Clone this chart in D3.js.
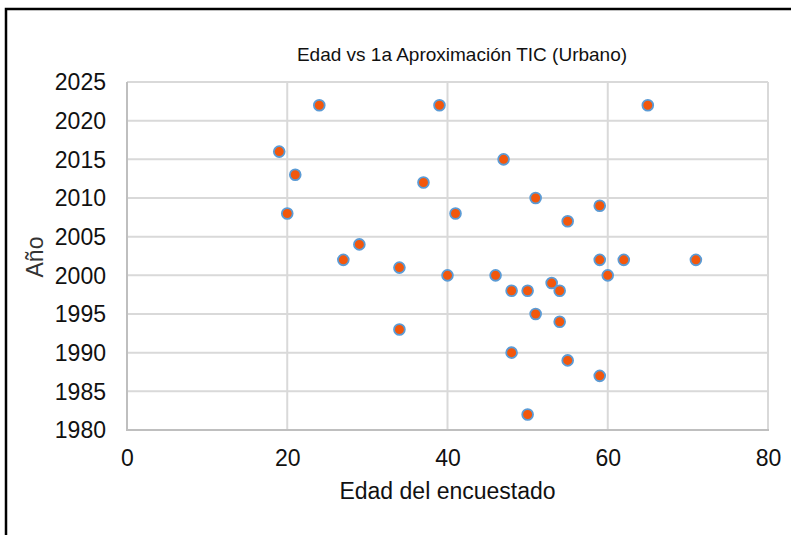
<!DOCTYPE html>
<html>
<head>
<meta charset="utf-8">
<script src="https://cdn.jsdelivr.net/npm/d3@7"></script>
<style>
  html, body { margin: 0; padding: 0; background: #fff; }
  svg { display: block; font-family: "Liberation Sans", Arial, sans-serif; }
</style>
</head>
<body>
<svg id="chart" width="791" height="535"></svg>
<script>
// Data
const edad = [19, 21, 20, 24, 27, 29, 34, 34, 37, 39, 40, 41, 46, 47, 48, 48,
              50, 50, 51, 51, 53, 54, 54, 55, 55, 59, 59, 59, 60, 62, 65, 71];
const anio = [2016, 2013, 2008, 2022, 2002, 2004, 2001, 1993, 2012, 2022, 2000, 2008, 2000, 2015, 1998, 1990,
              1998, 1982, 2010, 1995, 1999, 1998, 1994, 2007, 1989, 2009, 2002, 1987, 2000, 2002, 2022, 2002];
const xTicks = [0, 20, 40, 60, 80];
const yTicks = [1980, 1985, 1990, 1995, 2000, 2005, 2010, 2015, 2020, 2025];
const titleText = "Edad vs 1a Aproximación TIC (Urbano)";
const xLabel = "Edad del encuestado";
const yLabel = "Año";

(function () {
const points = edad.map((e, i) => ({ x: e, y: anio[i] }));

const svg = d3.select("#chart");
const W = 791, H = 535;
const pL = 127, pR = 768, pT = 82, pB = 430;

svg.append("rect").attr("width", W).attr("height", H).attr("fill", "#fff");

// outer black frame (left and top edges visible)
svg.append("path")
  .attr("d", `M6,${H + 5} L6,9 L${W + 5},9`)
  .attr("fill", "none").attr("stroke", "#000").attr("stroke-width", 2.5);

const x = d3.scaleLinear().domain([0, 80]).range([pL, pR]);
const y = d3.scaleLinear().domain([1980, 2025]).range([pB, pT]);

// gridlines
const grid = svg.append("g");
grid.selectAll("line.h").data(yTicks).join("line").attr("class", "h")
  .attr("x1", pL).attr("x2", pR)
  .attr("y1", d => y(d)).attr("y2", d => y(d))
  .attr("stroke", "#d9d9d9").attr("stroke-width", 2);
grid.selectAll("line.v").data(xTicks).join("line").attr("class", "v")
  .attr("y1", pT).attr("y2", pB)
  .attr("x1", d => x(d)).attr("x2", d => x(d))
  .attr("stroke", "#d9d9d9").attr("stroke-width", 2);

// axis lines (left and bottom)
svg.append("line").attr("x1", pL).attr("x2", pL).attr("y1", pT).attr("y2", pB + 1)
  .attr("stroke", "#bfbfbf").attr("stroke-width", 2);
svg.append("line").attr("x1", pL).attr("x2", pR + 1).attr("y1", pB).attr("y2", pB)
  .attr("stroke", "#bfbfbf").attr("stroke-width", 2);

// axes via d3 (labels only)
const xAxis = svg.append("g")
  .attr("transform", `translate(0,${pB})`)
  .call(d3.axisBottom(x).tickValues(xTicks).tickSize(0).tickPadding(20).tickFormat(d3.format("d")));
const yAxis = svg.append("g")
  .attr("transform", `translate(${pL},0)`)
  .call(d3.axisLeft(y).tickValues(yTicks).tickSize(0).tickPadding(21).tickFormat(d3.format("d")));
[xAxis, yAxis].forEach(a => {
  a.select(".domain").remove();
  a.selectAll("text")
    .attr("font-family", "'Liberation Sans', Arial, sans-serif")
    .attr("font-size", 23).attr("fill", "#111");
});
yAxis.selectAll("text").attr("dy", "0.34em");

// points
svg.append("g").selectAll("circle").data(points).join("circle")
  .attr("cx", d => x(d.x)).attr("cy", d => y(d.y))
  .attr("r", 5.4)
  .attr("fill", "#F2570C")
  .attr("stroke", "#5B9BD5").attr("stroke-width", 1.8);

// title
svg.append("text").attr("x", 462).attr("y", 61)
  .attr("text-anchor", "middle").attr("font-size", 19).attr("fill", "#111")
  .text(titleText);

// x label
svg.append("text").attr("x", 447.5).attr("y", 499)
  .attr("text-anchor", "middle").attr("font-size", 23).attr("fill", "#111")
  .text(xLabel);

// y label
svg.append("text")
  .attr("transform", "translate(43,257) rotate(-90)")
  .attr("text-anchor", "middle").attr("font-size", 23).attr("fill", "#333")
  .text(yLabel);
})();
</script>
</body>
</html>
